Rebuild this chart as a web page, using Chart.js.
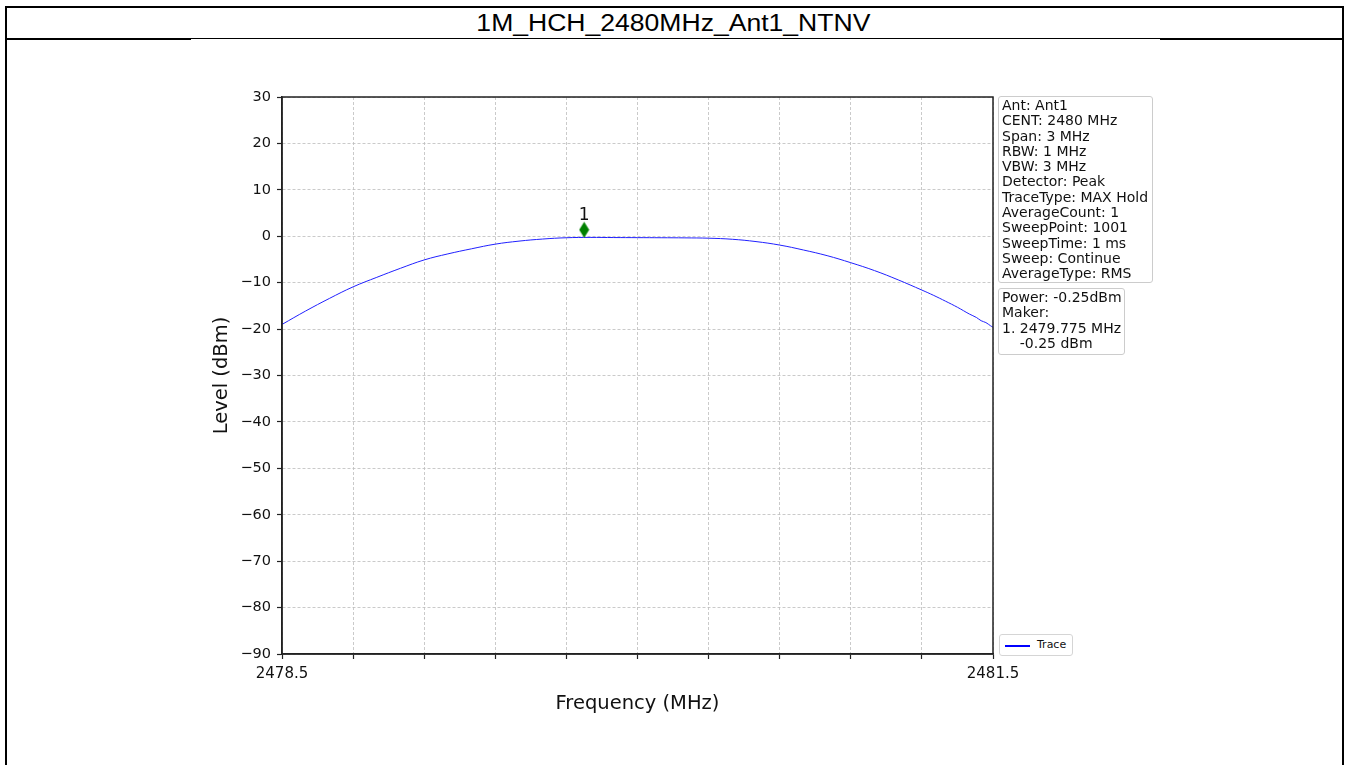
<!DOCTYPE html>
<html>
<head>
<meta charset="utf-8">
<title>1M_HCH_2480MHz_Ant1_NTNV</title>
<script src="https://cdn.jsdelivr.net/npm/chart.js@4.4.1/dist/chart.umd.min.js"></script>
<style>
  html, body { margin: 0; padding: 0; background: #fff; }
  body { width: 1346px; height: 765px; position: relative; overflow: hidden; font-family: "DejaVu Sans", sans-serif; }
  #frame { position: absolute; left: 5px; top: 6px; width: 1335px; height: 800px; border: 2px solid #000; border-bottom: none; }
  #title { position: absolute; left: 0; top: 10px; width: 1346px; text-align: center; line-height: 30px; }
  #title span { display: inline-block; font: 23.5px "Liberation Sans", Arial, sans-serif; color: #000; transform-origin: center; }
  .sep { position: absolute; background: #000; }
  #chart { position: absolute; left: 0; top: 0; }
  .box { position: absolute; box-sizing: border-box; border: 1px solid #cccccc; border-radius: 3px; background: #fff;
         font-size: 14px; line-height: 15.3px; padding: 1px 3px; white-space: pre; color: #111; }
  #legend { position: absolute; left: 999px; top: 634px; width: 74px; height: 22px; box-sizing: border-box;
            border: 1px solid #d5d5d5; border-radius: 3px; background: #fff; }
  #legend .ln { position: absolute; left: 5px; top: 10px; width: 25px; height: 1.5px; background: #0000ff; }
  #legend .tx { position: absolute; left: 37px; top: 3px; font-size: 11px; line-height: 13px; color: #111; }
</style>
</head>
<body>
<div id="frame"></div>
<div id="title"><span id="titleText">1M_HCH_2480MHz_Ant1_NTNV</span></div>
<div class="sep" style="left:7px;top:38px;width:184px;height:2px"></div>
<div class="sep" style="left:191px;top:38px;width:970px;height:1px"></div>
<div class="sep" style="left:1160px;top:38px;width:182px;height:2px"></div>

<canvas id="chart" width="1346" height="765"></canvas>

<div class="box" style="left:998px;top:96px;width:155px;height:187px">Ant: Ant1
CENT: 2480 MHz
Span: 3 MHz
RBW: 1 MHz
VBW: 3 MHz
Detector: Peak
TraceType: MAX Hold
AverageCount: 1
SweepPoint: 1001
SweepTime: 1 ms
Sweep: Continue
AverageType: RMS</div>
<div class="box" style="left:998px;top:288px;width:127px;height:67px">Power: -0.25dBm
Maker:
1. 2479.775 MHz
    -0.25 dBm</div>
<div id="legend"><div class="ln"></div><div class="tx">Trace</div></div>

<script>
// ---------- Data ----------
const FREQ = [
  2478.5, 2478.6, 2478.7, 2478.8, 2478.9, 2479.0, 2479.1, 2479.2, 2479.3, 2479.4,
  2479.5, 2479.6, 2479.7, 2479.8, 2479.9, 2480.0, 2480.1, 2480.2, 2480.3, 2480.4,
  2480.5, 2480.6, 2480.7, 2480.8, 2480.9, 2481.0, 2481.1, 2481.2, 2481.25, 2481.3,
  2481.35, 2481.4, 2481.43, 2481.45, 2481.47, 2481.49, 2481.5
];
const LEVEL = [
  -19.0, -16.1, -13.4, -10.9, -8.85, -6.9, -5.1, -3.8, -2.7, -1.7,
  -1.05, -0.6, -0.32, -0.25, -0.28, -0.3, -0.32, -0.35, -0.42, -0.65,
  -1.15, -1.9, -2.96, -4.18, -5.7, -7.4, -9.4, -11.6, -12.75, -14.0,
  -15.3, -16.75, -17.5, -18.2, -18.6, -19.3, -19.6
];

const MARKER_FREQ = [2479.775];
const MARKER_PLOT = [1.4];      // diamond drawn a little above the peak
const MARKER_LABEL = ['1'];

const X_TICKS = [2478.5, 2478.8, 2479.1, 2479.4, 2479.7, 2480.0, 2480.3, 2480.6, 2480.9, 2481.2, 2481.5];
const X_LABELS = ['2478.5', '2481.5'];
const Y_MIN = -90, Y_MAX = 30, Y_STEP = 10;

// ---------- Title sized to the reference width ----------
const tt = document.getElementById('titleText');
tt.style.transform = `scaleX(${394 / tt.getBoundingClientRect().width})`;

// ---------- Thin green diamond for the marker ----------
const diamond = document.createElement('canvas');
diamond.width = 11;
diamond.height = 17;
{
  const d = diamond.getContext('2d');
  d.fillStyle = '#008000';
  d.beginPath();
  d.moveTo(5.5, 0.5); d.lineTo(10.5, 8.5); d.lineTo(5.5, 16.5); d.lineTo(0.5, 8.5);
  d.closePath();
  d.fill();
}

// ---------- Plugins: full frame round the plot, marker number ----------
const frameBox = {
  id: 'frameBox',
  afterDraw(chart) {
    const { ctx, chartArea: a } = chart;
    ctx.save();
    ctx.strokeStyle = '#222';
    ctx.lineWidth = 1.5;
    ctx.strokeRect(a.left, a.top, a.right - a.left, a.bottom - a.top);
    ctx.restore();
  }
};

const markerText = {
  id: 'markerText',
  afterDatasetsDraw(chart) {
    const { ctx, scales } = chart;
    ctx.save();
    ctx.font = '17px "DejaVu Sans"';
    ctx.fillStyle = '#111';
    ctx.textAlign = 'center';
    ctx.textBaseline = 'alphabetic';
    MARKER_FREQ.forEach((f, i) => {
      const x = scales.x.getPixelForValue(f);
      const y = scales.y.getPixelForValue(MARKER_PLOT[i]);
      ctx.fillText(MARKER_LABEL[i], x, y - 9.5);
    });
    ctx.restore();
  }
};

// ---------- Chart ----------
const gridOpts = {
  color: '#bdbdbd',
  lineWidth: 0.8,
  tickColor: '#222',
  tickLength: 5,
  tickWidth: 1.2
};
const borderOpts = { color: '#222', width: 1.5, dash: [3, 2] };

new Chart(document.getElementById('chart'), {
  type: 'line',
  data: {
    datasets: [
      {
        label: 'Marker',
        data: MARKER_FREQ.map((f, i) => ({ x: f, y: MARKER_PLOT[i] })),
        showLine: false,
        pointStyle: diamond,
        pointRadius: 6,
        pointHoverRadius: 6
      },
      {
        label: 'Trace',
        data: FREQ.map((f, i) => ({ x: f, y: LEVEL[i] })),
        borderColor: '#2020ff',
        borderWidth: 1,
        pointRadius: 0,
        tension: 0.4,
        fill: false
      }
    ]
  },
  options: {
    responsive: false,
    animation: false,
    events: [],
    layout: { padding: { left: 200, top: 97, right: 353, bottom: 41 } },
    plugins: { legend: { display: false }, tooltip: { enabled: false }, title: { display: false } },
    scales: {
      x: {
        type: 'linear',
        min: 2478.5,
        max: 2481.5,
        afterBuildTicks: s => { s.ticks = X_TICKS.map(v => ({ value: v })); },
        afterFit: s => { s.height = 70; },
        ticks: {
          autoSkip: false,
          maxRotation: 0,
          padding: 6,
          color: '#111',
          font: { family: 'DejaVu Sans', size: 15 },
          callback: v => { const t = v.toFixed(1); return X_LABELS.includes(t) ? t : ''; }
        },
        grid: gridOpts,
        border: borderOpts,
        title: {
          display: true,
          text: 'Frequency (MHz)',
          color: '#111',
          font: { family: 'DejaVu Sans', size: 19.5 },
          padding: { top: 0, bottom: 8 }
        }
      },
      y: {
        min: Y_MIN,
        max: Y_MAX,
        afterFit: s => { s.width = 82; },
        ticks: {
          stepSize: Y_STEP,
          padding: 6,
          color: '#111',
          font: { family: 'DejaVu Sans', size: 14.5 },
          callback: v => (v < 0 ? '\u2212' + Math.abs(v) : String(v))
        },
        grid: gridOpts,
        border: borderOpts,
        title: {
          display: true,
          text: 'Level (dBm)',
          color: '#111',
          font: { family: 'DejaVu Sans', size: 19.5 },
          padding: { top: 10, bottom: 0 }
        }
      }
    }
  },
  plugins: [frameBox, markerText]
});
</script>
</body>
</html>
